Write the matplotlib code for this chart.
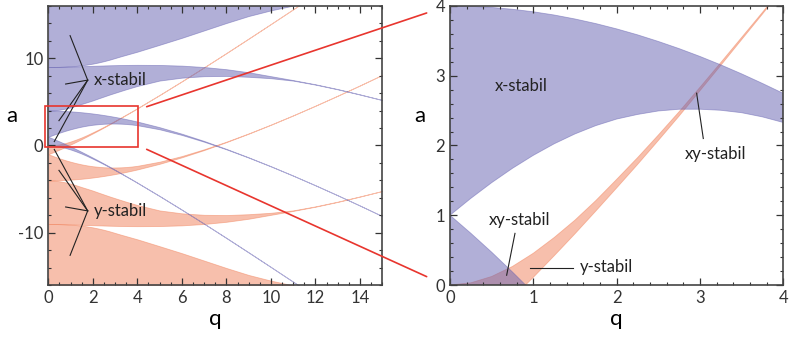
import numpy as np
import matplotlib
matplotlib.use('Agg')
import matplotlib.pyplot as plt
from matplotlib.patches import Rectangle
from matplotlib.ticker import MultipleLocator

# q grid and the boundary curves of the stability bands
q = [0, 0.25, 0.5, 0.75, 1, 1.25, 1.5, 1.75, 2, 2.25, 2.5, 2.75, 3, 3.25,
     3.5, 3.75, 4, 5, 6, 7, 8, 9, 10, 11, 12, 13, 14, 15, 16]
a0 = [0, -0.031, -0.122, -0.266, -0.455, -0.68, -0.93, -1.21, -1.514, -1.824,
      -2.149, -2.484, -2.834, -3.189, -3.549, -3.909, -4.279, -5.80, -7.37,
      -8.97, -10.61, -12.27, -13.94, -15.63, -17.33, -19.05, -20.78, -22.51, -24.25]
b1 = [1, 0.742, 0.471, 0.186, -0.110, -0.418, -0.734, -1.06, -1.391, -1.726,
      -2.071, -2.422, -2.785, -3.149, -3.517, -3.884, -4.26, -5.79, -7.36,
      -8.97, -10.60, -12.26, -13.94, -15.63, -17.33, -19.05, -20.78, -22.51, -24.25]
a1 = [1, 1.242, 1.467, 1.673, 1.859, 2.024, 2.166, 2.285, 2.379, 2.445, 2.495,
      2.52, 2.52, 2.505, 2.47, 2.41, 2.33, 1.858, 1.21, 0.43, -0.44, -1.39,
      -2.399, -3.463, -4.572, -5.717, -6.895, -8.105, -9.34]
b2 = [4, 3.995, 3.979, 3.953, 3.917, 3.871, 3.814, 3.748, 3.672, 3.587, 3.492,
      3.389, 3.277, 3.156, 3.027, 2.890, 2.747, 2.099, 1.35, 0.52, -0.39, -1.36,
      -2.382, -3.453, -4.566, -5.713, -6.891, -8.100, -9.336]
a2 = [4, 4.026, 4.101, 4.219, 4.371, 4.56, 4.77, 4.97, 5.172, 5.40, 5.62, 5.84,
      6.046, 6.25, 6.45, 6.64, 6.828, 7.449, 7.78, 7.95, 7.98, 7.88, 7.717,
      7.44, 6.98, 6.44, 5.84, 5.211, 4.47]
b3 = [9, 9.004, 9.014, 9.03, 9.047, 9.07, 9.095, 9.12, 9.14, 9.16, 9.18, 9.2,
      9.215, 9.23, 9.24, 9.245, 9.25, 9.237, 9.16, 9.0, 8.75, 8.4, 7.95, 7.5,
      7.02, 6.47, 5.86, 5.22, 4.48]
a3 = [9, 9.004, 9.018, 9.042, 9.079, 9.131, 9.197, 9.281, 9.39, 9.52, 9.67,
      9.84, 10.03, 10.22, 10.4, 10.58, 10.76, 11.55, 12.35, 13.2, 14.05, 14.85,
      15.5, 16.05, 16.55, 17.0, 17.4, 17.8, 18.2]

blue = '#6561b1'
red = '#f1815a'
zoomred = '#e8352e'
ink = '#222222'

plt.rcParams['font.family'] = ['Lato', 'DejaVu Sans']
plt.rcParams['font.size'] = 12
plt.rcParams['axes.unicode_minus'] = False

fig = plt.figure(figsize=(7.9, 3.37), dpi=100)
ax1 = fig.add_axes([0.0611, 0.1543, 0.4228, 0.8279])
ax2 = fig.add_axes([0.5696, 0.1543, 0.4219, 0.8279])

qq = np.array(q)
lo_x = [np.array(a0), np.array(a1), np.array(a2), np.array(a3)]
hi_x = [np.array(b1), np.array(b2), np.array(b3), np.full(len(q), 30.0)]

for ax in (ax1, ax2):
    # y-stable bands (mirror of x-stable in a)
    for lo, hi in zip(lo_x, hi_x):
        ax.fill_between(qq, -hi, -lo, facecolor=red, edgecolor=red,
                        alpha=0.5, lw=0.6)
    # x-stable bands
    for lo, hi in zip(lo_x, hi_x):
        ax.fill_between(qq, lo, hi, facecolor=blue, edgecolor=blue,
                        alpha=0.5, lw=0.6)
    ax.tick_params(which='both', direction='in', top=True, right=True,
                   colors='#333333', labelsize=12)
    ax.tick_params(which='major', length=5, width=0.9)
    ax.tick_params(which='minor', length=2.5, width=0.8)
    for s in ax.spines.values():
        s.set_color('#444444')
        s.set_linewidth(1.2)
    ax.set_xlabel('q', fontsize=16, labelpad=2)
    ax.set_ylabel('a', fontsize=16, rotation=0)

ax1.yaxis.set_label_coords(-0.108, 0.57)
ax2.yaxis.set_label_coords(-0.09, 0.57)

ax1.set_xlim(0, 15)
ax1.set_ylim(-16, 16)
ax1.xaxis.set_major_locator(MultipleLocator(2))
ax1.xaxis.set_minor_locator(MultipleLocator(0.5))
ax1.yaxis.set_major_locator(MultipleLocator(10))
ax1.yaxis.set_minor_locator(MultipleLocator(2))

ax2.set_xlim(0, 4)
ax2.set_ylim(0, 4)
ax2.xaxis.set_major_locator(MultipleLocator(1))
ax2.xaxis.set_minor_locator(MultipleLocator(0.2))
ax2.yaxis.set_major_locator(MultipleLocator(1))
ax2.yaxis.set_minor_locator(MultipleLocator(0.2))

# labels with pointer lines, left panel
ax1.text(2.05, 7.5, 'x-stabil', va='center', ha='left', fontsize=12, color=ink)
ax1.text(2.05, -7.5, 'y-stabil', va='center', ha='left', fontsize=12, color=ink)
for tq, ta in [(0.98, 12.6), (0.78, 7.05), (0.48, 2.85), (0.27, 0.45)]:
    ax1.plot([1.77, tq], [7.5, ta], color=ink, lw=0.8)
    ax1.plot([1.77, tq], [-7.5, -ta], color=ink, lw=0.8)

# labels, right panel
ax2.text(0.54, 2.85, 'x-stabil', va='center', ha='left', fontsize=12, color=ink)
ax2.text(3.19, 1.88, 'xy-stabil', va='center', ha='center', fontsize=12, color=ink)
ax2.plot([3.04, 2.96], [2.10, 2.75], color=ink, lw=0.8)
ax2.text(0.83, 0.93, 'xy-stabil', va='center', ha='center', fontsize=12, color=ink)
ax2.plot([0.78, 0.68], [0.74, 0.14], color=ink, lw=0.8)
ax2.text(1.56, 0.26, 'y-stabil', va='center', ha='left', fontsize=12, color=ink)
ax2.plot([0.96, 1.48], [0.24, 0.24], color=ink, lw=0.8)

# zoom box and connectors
ax1.add_patch(Rectangle((-0.15, -0.2), 4.2, 4.77, fill=False, edgecolor=zoomred,
                        lw=1.2, clip_on=False, zorder=5))
for (x0, y0), (x1, y1) in [((4.42, 4.45), (-0.28, 3.9)), ((4.42, -0.44), (-0.28, 0.12))]:
    ax2.annotate('', xy=(x1, y1), xycoords=ax2.transData,
                 xytext=(x0, y0), textcoords=ax1.transData,
                 arrowprops=dict(arrowstyle='-', color=zoomred, lw=1.2,
                                 shrinkA=0, shrinkB=0),
                 annotation_clip=False)

plt.savefig('out.png', dpi=100)
